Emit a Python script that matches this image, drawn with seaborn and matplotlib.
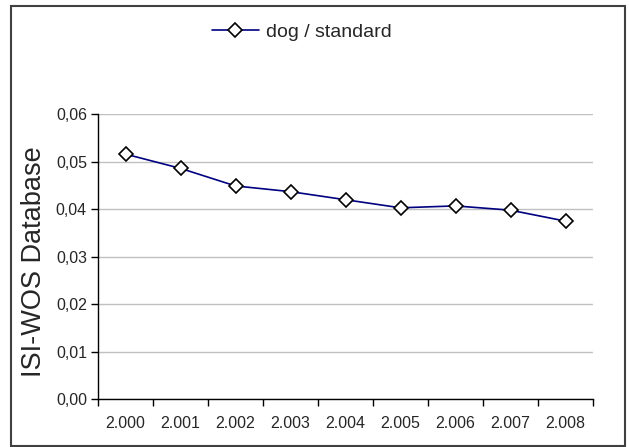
import matplotlib
matplotlib.use("Agg")
import matplotlib.pyplot as plt
import seaborn as sns
import pandas as pd
from matplotlib.patches import Rectangle
from matplotlib.ticker import FixedLocator

years = ["2.000", "2.001", "2.002", "2.003", "2.004", "2.005", "2.006", "2.007", "2.008"]
values = [0.0516, 0.0486, 0.0449, 0.0437, 0.0420, 0.0403, 0.0407, 0.0398, 0.0375]
y_ticks = [0.00, 0.01, 0.02, 0.03, 0.04, 0.05, 0.06]
y_tick_labels = ["0,00", "0,01", "0,02", "0,03", "0,04", "0,05", "0,06"]
series_name = "dog / standard"
y_label = "ISI-WOS Database"

sns.set_style("white")
plt.rcParams['font.family'] = ['Liberation Sans', 'DejaVu Sans']

df = pd.DataFrame({"year": years, "value": values})

fig = plt.figure(figsize=(6.29, 4.47), dpi=100)
ax = fig.add_axes([98 / 629, 1 - 399.3 / 447, (593 - 98) / 629, (399.3 - 114.2) / 447])

sns.lineplot(data=df, x="year", y="value", ax=ax, sort=False, color="#000080",
             linewidth=1.2, marker="D", markersize=7.2, markerfacecolor="white",
             markeredgecolor="black", markeredgewidth=1.2, label=series_name)

ax.set_xlim(-0.5, len(years) - 0.5)
ax.set_ylim(0, 0.06)
ax.set_yticks(y_ticks)
ax.set_yticklabels(y_tick_labels, fontsize=11.5)
ax.set_xticks(range(len(years)))
ax.set_xticklabels(years, fontsize=11.5)
ax.xaxis.set_minor_locator(FixedLocator([i - 0.5 for i in range(len(years) + 1)]))
ax.tick_params(axis="x", which="major", length=0, pad=12)
ax.tick_params(axis="x", which="minor", length=5, width=1, color="black", direction="out", bottom=True)
ax.tick_params(axis="y", which="major", length=5, width=1, color="black", direction="out", left=True, pad=3)
ax.grid(axis="y", color="#c0c0c0", linewidth=1)
ax.set_axisbelow(True)
for s in ["top", "right"]:
    ax.spines[s].set_visible(False)
for s in ["left", "bottom"]:
    ax.spines[s].set_color("black")
    ax.spines[s].set_linewidth(1)
ax.set_xlabel("")
ax.set_ylabel("")
fig.text(34 / 629, 1 - 262 / 447, y_label, rotation=90, fontsize=19.5,
         ha="center", va="center")

leg = ax.legend(loc="center", bbox_to_anchor=(302 / 629, 1 - 32 / 447),
                bbox_transform=fig.transFigure, frameon=False, fontsize=14,
                handlelength=2.4, handletextpad=0.4)

fig.patches.append(Rectangle((10.5 / 629, 1 - 445.5 / 447), (625 - 10.5) / 629, (445.5 - 6) / 447,
                             transform=fig.transFigure, fill=False, edgecolor="#404040",
                             linewidth=1.5))

fig.savefig("out.png", dpi=100)
